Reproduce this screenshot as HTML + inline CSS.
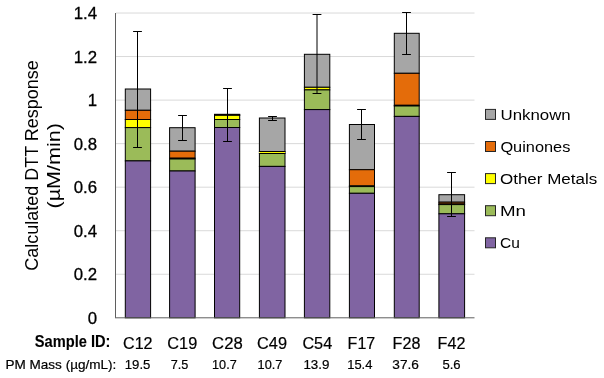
<!DOCTYPE html>
<html><head><meta charset="utf-8"><style>
html,body{margin:0;padding:0;background:#fff;}
svg{display:block;will-change:transform;}
text{font-family:"Liberation Sans",sans-serif;fill:#000;stroke:#000;stroke-width:0.2px;}
</style></head><body>
<svg width="604" height="378" viewBox="0 0 604 378">
<rect width="604" height="378" fill="#fff"/>
<line x1="116" x2="474.5" y1="274.26" y2="274.26" stroke="#d9d9d9" stroke-width="1"/>
<line x1="116" x2="474.5" y1="230.72" y2="230.72" stroke="#d9d9d9" stroke-width="1"/>
<line x1="116" x2="474.5" y1="187.18" y2="187.18" stroke="#d9d9d9" stroke-width="1"/>
<line x1="116" x2="474.5" y1="143.64" y2="143.64" stroke="#d9d9d9" stroke-width="1"/>
<line x1="116" x2="474.5" y1="100.10" y2="100.10" stroke="#d9d9d9" stroke-width="1"/>
<line x1="116" x2="474.5" y1="56.56" y2="56.56" stroke="#d9d9d9" stroke-width="1"/>
<line x1="116" x2="474.5" y1="13.02" y2="13.02" stroke="#d9d9d9" stroke-width="1"/>
<rect x="125.3" y="89" width="25.30" height="21.30" fill="#a6a6a6" stroke="#000" stroke-width="1"/>
<rect x="125.3" y="110.3" width="25.30" height="9.20" fill="#e46c0a" stroke="#000" stroke-width="1"/>
<rect x="125.3" y="119.5" width="25.30" height="8.10" fill="#ffff00" stroke="#000" stroke-width="1"/>
<rect x="125.3" y="127.6" width="25.30" height="33.30" fill="#9bbb59" stroke="#000" stroke-width="1"/>
<rect x="125.3" y="160.9" width="25.30" height="156.90" fill="#8064a2" stroke="#000" stroke-width="1"/>
<rect x="169.6" y="127.7" width="25.50" height="23.50" fill="#a6a6a6" stroke="#000" stroke-width="1"/>
<rect x="169.6" y="151.2" width="25.50" height="7.00" fill="#e46c0a" stroke="#000" stroke-width="1"/>
<rect x="169.6" y="158.2" width="25.50" height="0.80" fill="#ffff00" stroke="#000" stroke-width="1"/>
<rect x="169.6" y="159.0" width="25.50" height="12.00" fill="#9bbb59" stroke="#000" stroke-width="1"/>
<rect x="169.6" y="171.0" width="25.50" height="146.80" fill="#8064a2" stroke="#000" stroke-width="1"/>
<rect x="214.5" y="114.3" width="25.20" height="0.60" fill="#a6a6a6" stroke="#000" stroke-width="1"/>
<rect x="214.5" y="114.9" width="25.20" height="0.40" fill="#e46c0a" stroke="#000" stroke-width="1"/>
<rect x="214.5" y="115.3" width="25.20" height="4.20" fill="#ffff00" stroke="#000" stroke-width="1"/>
<rect x="214.5" y="119.5" width="25.20" height="8.00" fill="#9bbb59" stroke="#000" stroke-width="1"/>
<rect x="214.5" y="127.5" width="25.20" height="190.30" fill="#8064a2" stroke="#000" stroke-width="1"/>
<rect x="259.4" y="118.0" width="25.60" height="33.50" fill="#a6a6a6" stroke="#000" stroke-width="1"/>
<rect x="259.4" y="151.5" width="25.60" height="2.00" fill="#ffff00" stroke="#000" stroke-width="1"/>
<rect x="259.4" y="153.5" width="25.60" height="12.90" fill="#9bbb59" stroke="#000" stroke-width="1"/>
<rect x="259.4" y="166.4" width="25.60" height="151.40" fill="#8064a2" stroke="#000" stroke-width="1"/>
<rect x="304.4" y="54.3" width="25.40" height="33.00" fill="#a6a6a6" stroke="#000" stroke-width="1"/>
<rect x="304.4" y="87.3" width="25.40" height="2.60" fill="#ffff00" stroke="#000" stroke-width="1"/>
<rect x="304.4" y="89.9" width="25.40" height="19.70" fill="#9bbb59" stroke="#000" stroke-width="1"/>
<rect x="304.4" y="109.6" width="25.40" height="208.20" fill="#8064a2" stroke="#000" stroke-width="1"/>
<rect x="349.4" y="124.5" width="25.10" height="45.20" fill="#a6a6a6" stroke="#000" stroke-width="1"/>
<rect x="349.4" y="169.7" width="25.10" height="16.20" fill="#e46c0a" stroke="#000" stroke-width="1"/>
<rect x="349.4" y="185.9" width="25.10" height="0.70" fill="#ffff00" stroke="#000" stroke-width="1"/>
<rect x="349.4" y="186.6" width="25.10" height="6.70" fill="#9bbb59" stroke="#000" stroke-width="1"/>
<rect x="349.4" y="193.3" width="25.10" height="124.50" fill="#8064a2" stroke="#000" stroke-width="1"/>
<rect x="394.3" y="33.3" width="24.90" height="40.00" fill="#a6a6a6" stroke="#000" stroke-width="1"/>
<rect x="394.3" y="73.3" width="24.90" height="32.00" fill="#e46c0a" stroke="#000" stroke-width="1"/>
<rect x="394.3" y="105.3" width="24.90" height="0.70" fill="#ffff00" stroke="#000" stroke-width="1"/>
<rect x="394.3" y="106.0" width="24.90" height="10.40" fill="#9bbb59" stroke="#000" stroke-width="1"/>
<rect x="394.3" y="116.4" width="24.90" height="201.40" fill="#8064a2" stroke="#000" stroke-width="1"/>
<rect x="438.9" y="194.7" width="25.70" height="7.50" fill="#a6a6a6" stroke="#000" stroke-width="1"/>
<rect x="438.9" y="202.2" width="25.70" height="1.80" fill="#e46c0a" stroke="#000" stroke-width="1"/>
<rect x="438.9" y="204.0" width="25.70" height="0.60" fill="#ffff00" stroke="#000" stroke-width="1"/>
<rect x="438.9" y="204.6" width="25.70" height="9.20" fill="#9bbb59" stroke="#000" stroke-width="1"/>
<rect x="438.9" y="213.8" width="25.70" height="104.00" fill="#8064a2" stroke="#000" stroke-width="1"/>
<line x1="115.5" x2="115.5" y1="13" y2="317.8" stroke="#5f5f5f" stroke-width="1"/>
<line x1="115" x2="474.5" y1="317.8" y2="317.8" stroke="#5f5f5f" stroke-width="1"/>
<path d="M137.5 31.5V147.5M133.1 31.5H141.9M133.1 147.5H141.9" stroke="#000" stroke-width="1" fill="none"/>
<path d="M182.5 115.5V140.5M178.1 115.5H186.9M178.1 140.5H186.9" stroke="#000" stroke-width="1" fill="none"/>
<path d="M227.5 88.5V141.5M223.1 88.5H231.9M223.1 141.5H231.9" stroke="#000" stroke-width="1" fill="none"/>
<path d="M272.5 116.5V120.5M268.1 116.5H276.9M268.1 120.5H276.9" stroke="#000" stroke-width="1" fill="none"/>
<path d="M317 14.5V93.5M312.6 14.5H321.4M312.6 93.5H321.4" stroke="#000" stroke-width="1" fill="none"/>
<path d="M361.5 109.5V139.5M357.1 109.5H365.9M357.1 139.5H365.9" stroke="#000" stroke-width="1" fill="none"/>
<path d="M406.5 12.5V54.5M402.1 12.5H410.9M402.1 54.5H410.9" stroke="#000" stroke-width="1" fill="none"/>
<path d="M451.5 172.5V216.5M447.1 172.5H455.9M447.1 216.5H455.9" stroke="#000" stroke-width="1" fill="none"/>
<text x="97" y="323.80" text-anchor="end" style="font-size:16.8px;stroke-width:0.3px">0</text>
<text x="97" y="280.26" text-anchor="end" style="font-size:16.8px;stroke-width:0.3px">0.2</text>
<text x="97" y="236.72" text-anchor="end" style="font-size:16.8px;stroke-width:0.3px">0.4</text>
<text x="97" y="193.18" text-anchor="end" style="font-size:16.8px;stroke-width:0.3px">0.6</text>
<text x="97" y="149.64" text-anchor="end" style="font-size:16.8px;stroke-width:0.3px">0.8</text>
<text x="97" y="106.10" text-anchor="end" style="font-size:16.8px;stroke-width:0.3px">1</text>
<text x="97" y="62.56" text-anchor="end" style="font-size:16.8px;stroke-width:0.3px">1.2</text>
<text x="97" y="19.02" text-anchor="end" style="font-size:16.8px;stroke-width:0.3px">1.4</text>
<rect x="485.5" y="109.40" width="10" height="10" fill="#a6a6a6" stroke="#262626" stroke-width="1"/>
<rect x="485.5" y="141.50" width="10" height="10" fill="#e46c0a" stroke="#262626" stroke-width="1"/>
<rect x="485.5" y="173.60" width="10" height="10" fill="#ffff00" stroke="#262626" stroke-width="1"/>
<rect x="485.5" y="205.70" width="10" height="10" fill="#9bbb59" stroke="#262626" stroke-width="1"/>
<rect x="485.5" y="237.80" width="10" height="10" fill="#8064a2" stroke="#262626" stroke-width="1"/>
<text x="500.50" y="119.7" style="font-size:15.5px;font-weight:normal;stroke-width:0px" textLength="70.20" lengthAdjust="spacingAndGlyphs">Unknown</text>
<text x="500.40" y="151.8" style="font-size:15.5px;font-weight:normal;stroke-width:0px" textLength="70.00" lengthAdjust="spacingAndGlyphs">Quinones</text>
<text x="500.00" y="183.9" style="font-size:15.5px;font-weight:normal;stroke-width:0px" textLength="97.20" lengthAdjust="spacingAndGlyphs">Other Metals</text>
<text x="500.00" y="216.0" style="font-size:15.5px;font-weight:normal;stroke-width:0px" textLength="26.00" lengthAdjust="spacingAndGlyphs">Mn</text>
<text x="500.00" y="248.10000000000002" style="font-size:15.5px;font-weight:normal;stroke-width:0px" textLength="19.80" lengthAdjust="spacingAndGlyphs">Cu</text>
<text x="123.00" y="348.6" style="font-size:16.3px;font-weight:normal;stroke-width:0.2px" textLength="29.60" lengthAdjust="spacingAndGlyphs">C12</text>
<text x="167.30" y="348.6" style="font-size:16.3px;font-weight:normal;stroke-width:0.2px" textLength="30.00" lengthAdjust="spacingAndGlyphs">C19</text>
<text x="212.10" y="348.6" style="font-size:16.3px;font-weight:normal;stroke-width:0.2px" textLength="30.60" lengthAdjust="spacingAndGlyphs">C28</text>
<text x="257.00" y="348.6" style="font-size:16.3px;font-weight:normal;stroke-width:0.2px" textLength="30.00" lengthAdjust="spacingAndGlyphs">C49</text>
<text x="302.40" y="348.6" style="font-size:16.3px;font-weight:normal;stroke-width:0.2px" textLength="29.80" lengthAdjust="spacingAndGlyphs">C54</text>
<text x="347.60" y="348.6" style="font-size:16.3px;font-weight:normal;stroke-width:0.2px" textLength="27.60" lengthAdjust="spacingAndGlyphs">F17</text>
<text x="392.60" y="348.6" style="font-size:16.3px;font-weight:normal;stroke-width:0.2px" textLength="27.80" lengthAdjust="spacingAndGlyphs">F28</text>
<text x="437.60" y="348.6" style="font-size:16.3px;font-weight:normal;stroke-width:0.2px" textLength="27.80" lengthAdjust="spacingAndGlyphs">F42</text>
<text x="124.80" y="369.4" style="font-size:12.9px;font-weight:normal;stroke-width:0.2px" textLength="25.60" lengthAdjust="spacingAndGlyphs">19.5</text>
<text x="170.70" y="369.4" style="font-size:12.9px;font-weight:normal;stroke-width:0.2px" textLength="17.60" lengthAdjust="spacingAndGlyphs">7.5</text>
<text x="212.10" y="369.4" style="font-size:12.9px;font-weight:normal;stroke-width:0.2px" textLength="24.60" lengthAdjust="spacingAndGlyphs">10.7</text>
<text x="257.60" y="369.4" style="font-size:12.9px;font-weight:normal;stroke-width:0.2px" textLength="24.80" lengthAdjust="spacingAndGlyphs">10.7</text>
<text x="303.40" y="369.4" style="font-size:12.9px;font-weight:normal;stroke-width:0.2px" textLength="26.00" lengthAdjust="spacingAndGlyphs">13.9</text>
<text x="347.20" y="369.4" style="font-size:12.9px;font-weight:normal;stroke-width:0.2px" textLength="25.20" lengthAdjust="spacingAndGlyphs">15.4</text>
<text x="392.30" y="369.4" style="font-size:12.9px;font-weight:normal;stroke-width:0.2px" textLength="26.60" lengthAdjust="spacingAndGlyphs">37.6</text>
<text x="442.40" y="369.4" style="font-size:12.9px;font-weight:normal;stroke-width:0.2px" textLength="18.20" lengthAdjust="spacingAndGlyphs">5.6</text>
<text x="34.80" y="347.0" style="font-size:16px;font-weight:bold;stroke-width:0.1px" textLength="75.60" lengthAdjust="spacingAndGlyphs">Sample ID:</text>
<text x="5.50" y="369.2" style="font-size:12.8px;font-weight:normal;stroke-width:0.2px" textLength="110.80" lengthAdjust="spacingAndGlyphs">PM Mass (µg/mL):</text>
<text transform="translate(38.0,270.70) rotate(-90)" style="font-size:18px;font-weight:normal;stroke-width:0px" textLength="210.40" lengthAdjust="spacingAndGlyphs">Calculated DTT Response</text>
<text transform="translate(59.5,208.50) rotate(-90)" style="font-size:18px;font-weight:normal;stroke-width:0px" textLength="85.40" lengthAdjust="spacingAndGlyphs">(µM/min)</text>
</svg>
</body></html>
